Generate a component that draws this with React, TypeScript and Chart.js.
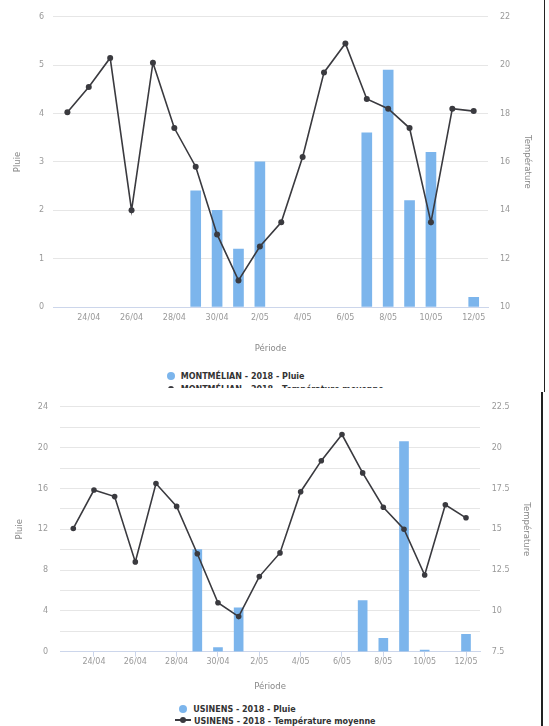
import React, { useEffect, useRef } from 'react';
import { Chart, registerables } from 'chart.js';

Chart.register(...registerables);

// ---------- data ----------
const days = ['23/04', '24/04', '25/04', '26/04', '27/04', '28/04', '29/04', '30/04', '1/05', '2/05',
  '3/05', '4/05', '5/05', '6/05', '7/05', '8/05', '9/05', '10/05', '11/05', '12/05'];

const montmelianRain = [0, 0, 0, 0, 0, 0, 2.4, 2.0, 1.2, 3.0, 0, 0, 0, 0, 3.6, 4.9, 2.2, 3.2, 0, 0.2];
const montmelianTemp = [18.05, 19.1, 20.3, 14.0, 20.1, 17.4, 15.8, 13.0, 11.1, 12.5,
  13.5, 16.2, 19.7, 20.9, 18.6, 18.2, 17.4, 13.5, 18.2, 18.1];

const usinensRain = [0, 0, 0, 0, 0, 0, 10.0, 0.4, 4.3, 0, 0, 0, 0, 0, 5.0, 1.3, 20.6, 0.15, 0, 1.7];
const usinensTemp = [15.05, 17.4, 17.0, 13.0, 17.8, 16.4, 13.5, 10.5, 9.65, 12.1,
  13.55, 17.3, 19.2, 20.8, 18.45, 16.35, 15.0, 12.2, 16.5, 15.7];

const labelledDays = [1, 3, 5, 7, 9, 11, 13, 15, 17, 19];

const BAR = '#7cb5ec';
const LINE = '#3a3a3f';
const GRID = '#e6e6e6';
const AXIS = '#ccd6eb';
const TICK = '#999999';
const TITLE = '#888888';
const FONT = "'DejaVu Sans', sans-serif";

type Spec = {
  top: number; height: number; padTop: number;
  leftW: number; rightW: number; xH: number;
  xMin: number; xMax: number;
  yMax: number; yStep: number; yLabelEvery: number;
  y1Min: number; y1Max: number; y1Step: number;
  leftTickPad: number; rightTickPad: number; leftTitlePad: number; rightTitlePad: number;
  xTickPad: number; xTickLen: number; xTitlePad: number;
  barThickness: number; pointRadius: number;
  rain: number[]; temp: number[]; rainLabel: string; tempLabel: string;
};

function ChartBlock({ spec }: { spec: Spec }) {
  const ref = useRef<HTMLCanvasElement>(null);
  useEffect(() => {
    const chart = new Chart(ref.current!, {
      type: 'bar',
      data: {
        datasets: [
          {
            type: 'line',
            label: spec.tempLabel,
            data: spec.temp.map((v, i) => ({ x: i, y: v })),
            yAxisID: 'y1',
            borderColor: LINE,
            backgroundColor: LINE,
            borderWidth: 1.6,
            pointRadius: spec.pointRadius,
            pointBorderWidth: 0,
            pointBackgroundColor: LINE,
            tension: 0,
            order: 0,
          } as any,
          {
            type: 'bar',
            label: spec.rainLabel,
            data: spec.rain.map((v, i) => ({ x: i, y: v === 0 ? null : v })),
            yAxisID: 'y',
            backgroundColor: BAR,
            barThickness: spec.barThickness,
            order: 1,
          } as any,
        ],
      },
      options: {
        responsive: false,
        animation: false,
        events: [],
        layout: { padding: { top: spec.padTop, left: 0, right: 0, bottom: 0 } },
        plugins: { legend: { display: false }, tooltip: { enabled: false } },
        scales: {
          x: {
            type: 'linear',
            position: 'bottom',
            offset: false,
            min: spec.xMin,
            max: spec.xMax,
            afterBuildTicks: (scale: any) => {
              scale.ticks = labelledDays.map((i) => ({ value: i }));
            },
            afterFit: (scale: any) => { scale.height = spec.xH; },
            ticks: {
              autoSkip: false,
              maxRotation: 0,
              padding: spec.xTickPad,
              color: TICK,
              font: { family: FONT, size: 8 },
              callback: (v: any) => days[v as number] ?? '',
            },
            grid: {
              display: spec.xTickLen > 0,
              offset: false,
              drawOnChartArea: false,
              drawTicks: spec.xTickLen > 0,
              tickLength: spec.xTickLen,
              color: AXIS,
            },
            border: { display: true, color: AXIS, width: 1 },
            title: {
              display: true,
              text: 'Période',
              color: TITLE,
              font: { family: FONT, size: 8.5 },
              padding: { top: 0, bottom: spec.xTitlePad },
            },
          },
          y: {
            type: 'linear',
            position: 'left',
            min: 0,
            max: spec.yMax,
            afterFit: (scale: any) => { scale.width = spec.leftW; },
            ticks: {
              stepSize: spec.yStep,
              padding: spec.leftTickPad,
              color: TICK,
              font: { family: FONT, size: 8 },
              callback: (v: any) => ((v as number) % spec.yLabelEvery === 0 ? String(v) : ''),
            },
            grid: { color: GRID, drawTicks: false, lineWidth: 1 },
            border: { display: false },
            title: {
              display: true,
              text: 'Pluie',
              color: TITLE,
              font: { family: FONT, size: 8.5 },
              padding: { top: spec.leftTitlePad, bottom: 0 },
            },
          },
          y1: {
            type: 'linear',
            position: 'right',
            min: spec.y1Min,
            max: spec.y1Max,
            afterFit: (scale: any) => { scale.width = spec.rightW; },
            ticks: {
              stepSize: spec.y1Step,
              padding: spec.rightTickPad,
              color: TICK,
              font: { family: FONT, size: 8 },
              callback: (v: any) => String(v),
            },
            grid: { drawOnChartArea: false, drawTicks: false },
            border: { display: false },
            title: {
              display: true,
              text: 'Température',
              color: TITLE,
              font: { family: FONT, size: 8.5 },
              padding: { top: spec.rightTitlePad, bottom: 0 },
            },
          },
        },
      } as any,
    });
    return () => chart.destroy();
  }, [spec]);
  return (
    <canvas
      ref={ref}
      width={549}
      height={spec.height}
      style={{ position: 'absolute', left: 0, top: spec.top, width: 549, height: spec.height }}
    />
  );
}

const spec1: Spec = {
  top: 0, height: 360, padTop: 14,
  leftW: 53, rightW: 61, xH: 53,
  xMin: -0.673, xMax: 19.668,
  yMax: 6, yStep: 1, yLabelEvery: 1,
  y1Min: 10, y1Max: 22, y1Step: 2,
  leftTickPad: 9, rightTickPad: 12, leftTitlePad: 12.9, rightTitlePad: 16.4,
  xTickPad: 6.2, xTickLen: 0, xTitlePad: 5.9,
  barThickness: 10, pointRadius: 3,
  rain: montmelianRain, temp: montmelianTemp,
  rainLabel: 'MONTMÉLIAN - 2018 - Pluie', tempLabel: 'MONTMÉLIAN - 2018 - Température moyenne',
};

const spec2: Spec = {
  top: 390, height: 310, padTop: 13.3,
  leftW: 60, rightW: 69, xH: 48.3,
  xMin: -0.643, xMax: 19.677,
  yMax: 24, yStep: 2, yLabelEvery: 4,
  y1Min: 7.5, y1Max: 22.5, y1Step: 2.5,
  leftTickPad: 12, rightTickPad: 11.7, leftTitlePad: 14.9, rightTitlePad: 17.2,
  xTickPad: 0, xTickLen: 5, xTitlePad: 8.2,
  barThickness: 9, pointRadius: 2.8,
  rain: usinensRain, temp: usinensTemp,
  rainLabel: 'USINENS - 2018 - Pluie', tempLabel: 'USINENS - 2018 - Température moyenne',
};

function LegendRow({ kind, text, cx, cy, textX }: { kind: 'bar' | 'line'; text: string; cx: number; cy: number; textX: number }) {
  return (
    <>
      {kind === 'bar' ? (
        <div style={{ position: 'absolute', left: cx - 4, top: cy - 4, width: 8, height: 8, borderRadius: 4, background: BAR }} />
      ) : (
        <>
          <div style={{ position: 'absolute', left: cx - 8, top: cy - 1, width: 16, height: 2, background: LINE }} />
          <div style={{ position: 'absolute', left: cx - 3, top: cy - 3, width: 6, height: 6, borderRadius: 3, background: LINE }} />
        </>
      )}
      <div
        style={{
          position: 'absolute', left: textX, top: cy - 4.5, height: 12, lineHeight: '12px',
          fontFamily: FONT, fontWeight: 'bold', fontSize: 8, color: '#333333', whiteSpace: 'nowrap',
        }}
      >
        {text}
      </div>
    </>
  );
}

export default function App() {
  return (
    <div style={{ position: 'absolute', left: 0, top: 0, width: 549, height: 726, background: '#ffffff', overflow: 'hidden' }}>
      <div style={{ position: 'absolute', left: 0, top: 0, width: 549, height: 388, overflow: 'hidden' }}>
        <ChartBlock spec={spec1} />
        <LegendRow kind="bar" text={spec1.rainLabel} cx={170.7} cy={375.5} textX={180.7} />
        <LegendRow kind="line" text={spec1.tempLabel} cx={170.7} cy={388.5} textX={180.7} />
      </div>
      <ChartBlock spec={spec2} />
      <LegendRow kind="bar" text={spec2.rainLabel} cx={183.3} cy={708.5} textX={193.3} />
      <LegendRow kind="line" text={spec2.tempLabel} cx={183.3} cy={720} textX={194} />
      <div style={{ position: 'absolute', left: 543.5, top: 0, width: 1.5, height: 392, background: '#222' }} />
      <div style={{ position: 'absolute', left: 541, top: 392, width: 1.5, height: 334, background: '#222' }} />
    </div>
  );
}
